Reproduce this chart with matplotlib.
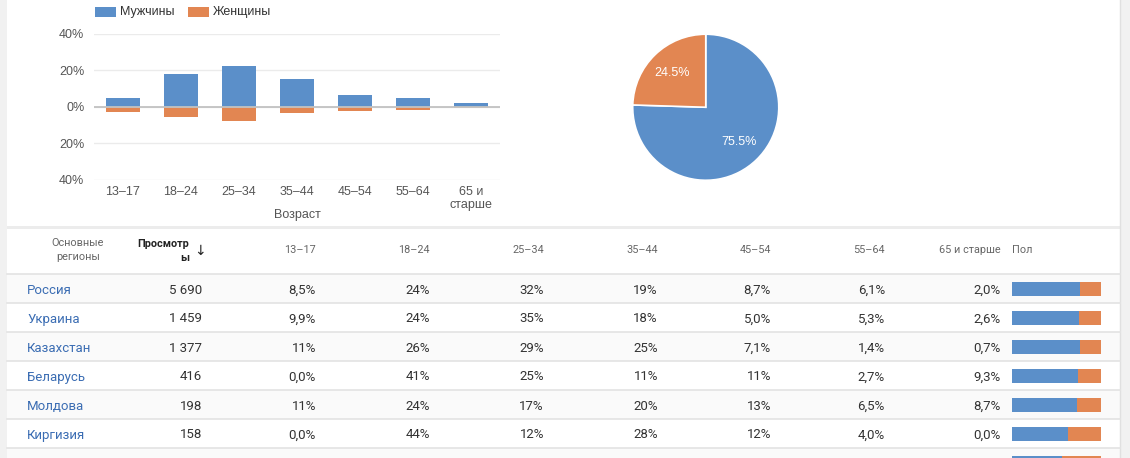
import matplotlib.pyplot as plt
from matplotlib.patches import Rectangle

# данные диаграммы по возрасту
ages = ["13–17", "18–24", "25–34", "35–44", "45–54", "55–64", "65 и\nстарше"]
male = [5.1, 18.1, 22.5, 15.4, 6.7, 5.1, 2.0]
female = [2.7, 5.4, 7.6, 3.2, 2.0, 1.5, 0.9]
pie_vals = [75.5, 24.5]

# таблица по регионам
regions = ["Россия", "Украина", "Казахстан", "Беларусь", "Молдова", "Киргизия"]
views = [5690, 1459, 1377, 416, 198, 158]
age_cols = ["13–17", "18–24", "25–34", "35–44", "45–54", "55–64", "65 и старше"]
shares = [
    [8.5, 24, 32, 19, 8.7, 6.1, 2.0],
    [9.9, 24, 35, 18, 5.0, 5.3, 2.6],
    [11, 26, 29, 25, 7.1, 1.4, 0.7],
    [0.0, 41, 25, 11, 11, 2.7, 9.3],
    [11, 24, 17, 20, 13, 6.5, 8.7],
    [0.0, 44, 12, 28, 12, 4.0, 0.0],
]
male_share = [0.763, 0.755, 0.763, 0.743, 0.73, 0.629, 0.563]

BLUE = "#5b8fc9"
ORANGE = "#e28652"
W, H = 1130, 458

fig = plt.figure(figsize=(W / 100, H / 100), dpi=100)
fig.patch.set_facecolor("white")


def px(x0, y0, x1, y1):
    # прямоугольник в пикселях -> координаты фигуры
    return [x0 / W, 1 - y1 / H, (x1 - x0) / W, (y1 - y0) / H]


# фон: полосы, линии
bg = fig.add_axes([0, 0, 1, 1])
bg.set_xlim(0, W)
bg.set_ylim(H, 0)
bg.axis("off")
bg.add_patch(Rectangle((0, 0), 7, H, color="#f1f1f1", lw=0))
bg.add_patch(Rectangle((1120, 0), 10, H, color="#f1f1f1", lw=0))
bg.plot([1120, 1120], [0, H], color="#e0e0e0", lw=1)
bg.add_patch(Rectangle((7, 226), 1113, 3, color="#ececec", lw=0))

row_top = 274
pitch = 29
for i in range(len(regions) + 1):
    y = row_top + i * pitch
    if i % 2 == 0:
        bg.add_patch(Rectangle((7, y), 1113, pitch, color="#fafafa", lw=0))
for i in range(len(regions) + 2):
    y = row_top + i * pitch
    bg.plot([7, 1120], [y, y], color="#e3e3e3", lw=1.2)

tf = "Roboto"
# заголовки
bg.text(78, 250, "Основные\nрегионы", ha="center", va="center", fontsize=7.8,
        color="#666666", family=tf, linespacing=1.5)
bg.text(189, 251, "Просмотр\nы", ha="right", va="center", fontsize=7.8,
        color="#222222", family=tf, weight="bold", linespacing=1.5)
bg.text(200, 251, "↓", ha="center", va="center", fontsize=10, color="#222222",
        family="DejaVu Sans")
col_x = [316, 430, 544, 658, 771, 885, 1001]
for cx, name in zip(col_x, age_cols):
    bg.text(cx, 250, name, ha="right", va="center", fontsize=7.8,
            color="#666666", family=tf)
bg.text(1012, 250, "Пол", ha="left", va="center", fontsize=7.8,
        color="#666666", family=tf)


def fmt_pct(v):
    s = f"{v:.1f}" if v < 10 else f"{v:.0f}"
    return s.replace(".", ",") + "%"


for i, (reg, v, row) in enumerate(zip(regions, views, shares)):
    cy = row_top + pitch * i + pitch / 2 + 1.5
    bg.text(27, cy, reg, ha="left", va="center", fontsize=9.5,
            color="#3b6db3", family=tf)
    bg.text(202, cy, f"{v:,}".replace(",", " "), ha="right", va="center",
            fontsize=9.5, color="#333333", family=tf)
    for cx, s in zip(col_x, row):
        bg.text(cx, cy, fmt_pct(s), ha="right", va="center", fontsize=9.5,
                color="#333333", family=tf)

# полосы пола в таблице
gx = fig.add_axes(px(1012, row_top, 1101, H))
gx.set_xlim(0, 1)
gx.set_ylim((H - row_top) / pitch - 0.5, -0.5)
gx.axis("off")
rows = list(range(len(male_share)))
gx.barh(rows, male_share, height=14 / pitch, color=BLUE, lw=0)
gx.barh(rows, [1 - m for m in male_share], left=male_share, height=14 / pitch,
        color=ORANGE, lw=0)

# столбчатая диаграмма
ax = fig.add_axes(px(94, 33.7, 500, 180))
x = list(range(len(ages)))
fcol = [ORANGE] * (len(ages) - 1) + ["#f2c3a6"]
ax.bar(x, male, width=0.6, color=BLUE, zorder=3)
ax.bar(x, [-f for f in female], width=0.6, color=fcol, zorder=3)
ax.set_xlim(-0.5, len(ages) - 0.5)
ax.set_ylim(-40, 40)
ax.set_yticks([-40, -20, 0, 20, 40])
ax.set_yticklabels(["40%", "20%", "0%", "20%", "40%"])
ax.set_xticks(x)
ax.set_xticklabels(ages)
for s in ax.spines.values():
    s.set_visible(False)
ax.grid(axis="y", color="#ebebeb", lw=1, zorder=0)
ax.axhline(0, color="#c2c2c2", lw=1.3, zorder=4)
ax.tick_params(length=0, labelsize=9, labelcolor="#555555", pad=4)
ax.tick_params(axis="y", pad=7)
for t in ax.get_xticklabels() + ax.get_yticklabels():
    t.set_family("Liberation Sans")
ax.set_xlabel("Возраст", fontsize=9, color="#555555", family="Liberation Sans")
ax.xaxis.set_label_coords(0.5, -0.2)

# легенда
bg.add_patch(Rectangle((95, 7), 21, 10, color=BLUE, lw=0))
bg.text(120, 12, "Мужчины", ha="left", va="center", fontsize=9,
        color="#333333", family="Liberation Sans")
bg.add_patch(Rectangle((188, 7), 21, 10, color=ORANGE, lw=0))
bg.text(213, 12, "Женщины", ha="left", va="center", fontsize=9,
        color="#333333", family="Liberation Sans")

# круговая диаграмма
pa = fig.add_axes(px(632, 33.5, 779.5, 181))
wedges, texts, autotexts = pa.pie(
    pie_vals, colors=[BLUE, ORANGE], startangle=90, counterclock=False,
    autopct="%.1f%%", pctdistance=0.66,
    wedgeprops=dict(edgecolor="white", linewidth=1.2),
    textprops=dict(color="white", fontsize=9, family="Liberation Sans"))
pa.set_xlim(-1.01, 1.01)
pa.set_ylim(-1.01, 1.01)
pa.set_aspect("equal")

fig.savefig("out.png", dpi=100, facecolor="white")
